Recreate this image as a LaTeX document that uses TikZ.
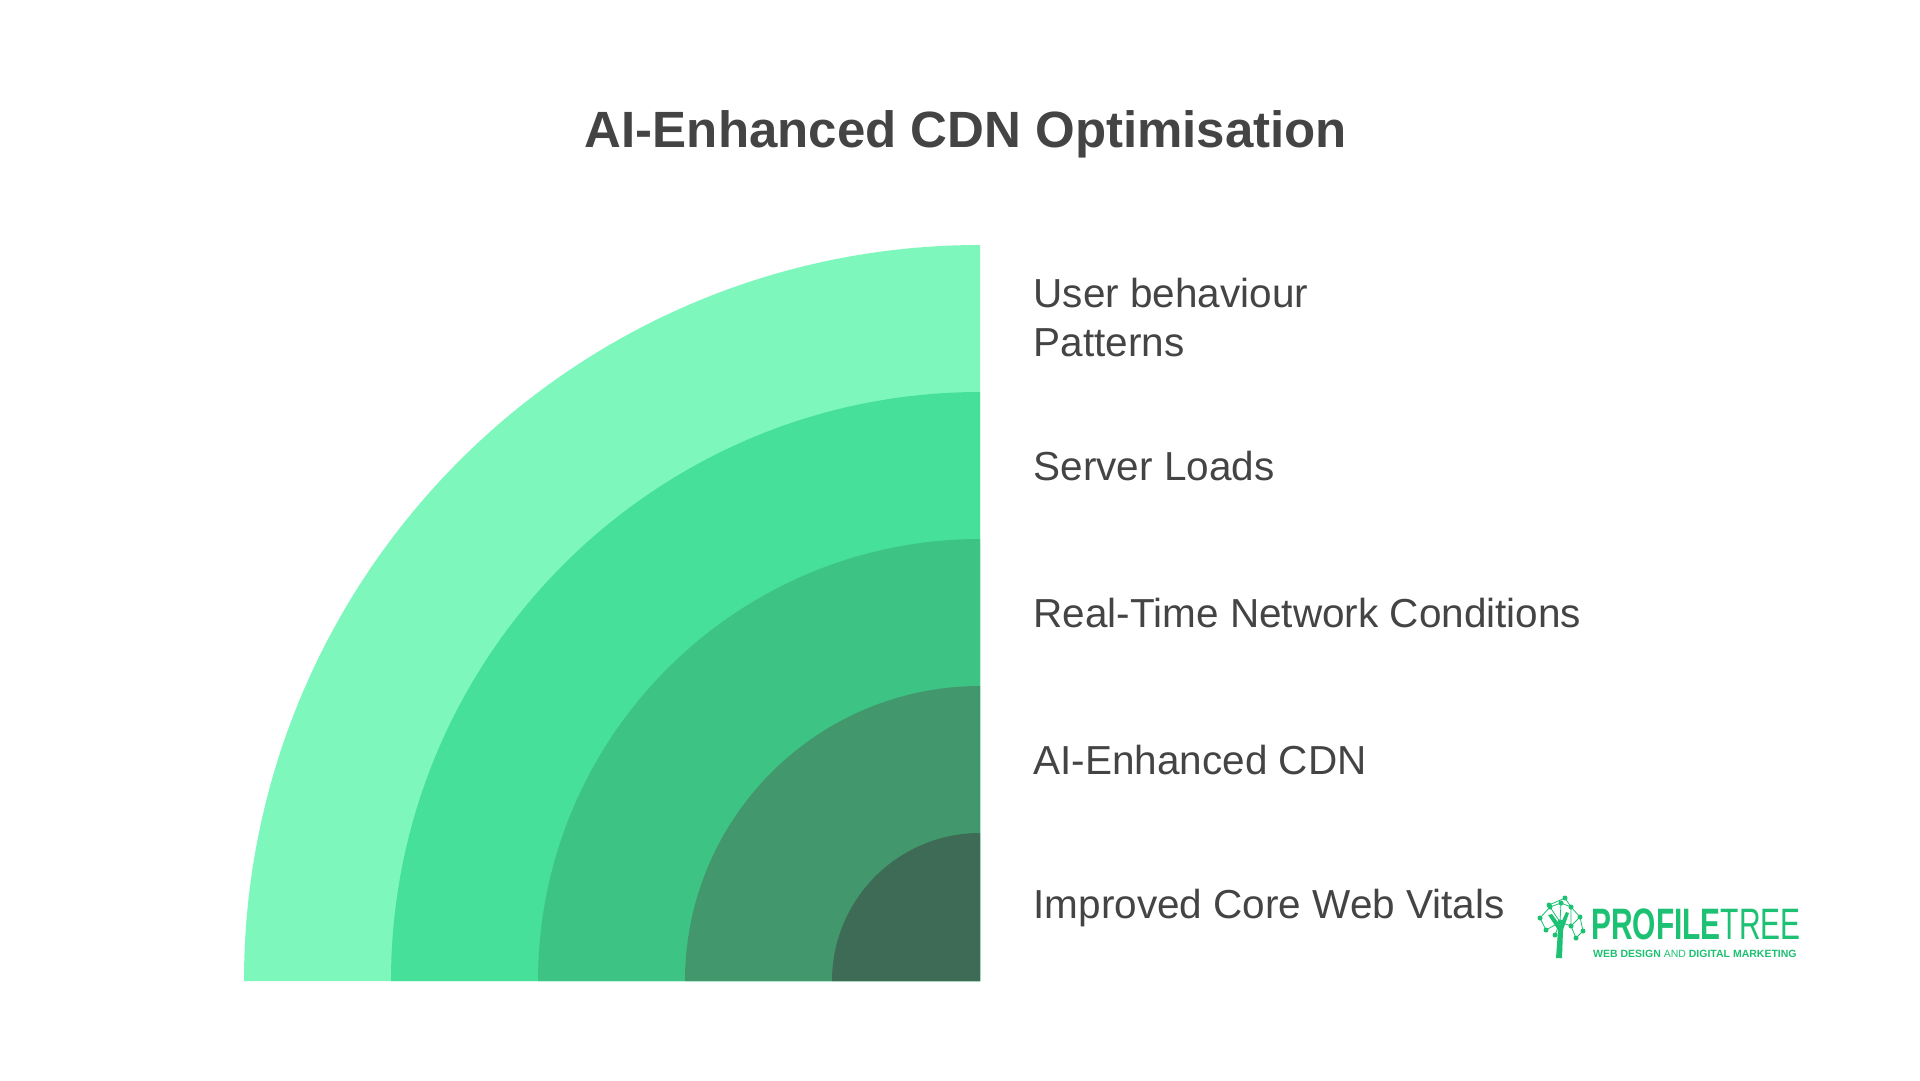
\documentclass[tikz,border=0pt]{standalone}
\usepackage{fontspec}
\setmainfont{Liberation Sans}
\definecolor{c1}{HTML}{7EF7BC}
\definecolor{c2}{HTML}{47E09A}
\definecolor{c3}{HTML}{3DC484}
\definecolor{c4}{HTML}{42986C}
\definecolor{c5}{HTML}{3D6B55}
\definecolor{txt}{HTML}{444444}
\definecolor{pt}{HTML}{1CC173}
\begin{document}
\begin{tikzpicture}[x=1pt,y=-1pt,
  lbl/.style={anchor=west,text=txt,font=\fontsize{40.5}{49}\selectfont,align=left},
  dot/.style={circle,fill=pt,inner sep=0pt,minimum size=#1}]
\useasboundingbox (0,0) rectangle (1920,1080);
\fill[white] (0,0) rectangle (1920,1080);
\node[text=txt,font=\bfseries\fontsize{51}{60}\selectfont] (title) at (966,134) {AI-Enhanced CDN Optimisation};
\foreach \r/\c in {736/c1,589/c2,442/c3,295/c4,148/c5}{
  \fill[\c] (980,981) -- ++(-\r,0) arc[start angle=180,end angle=270,radius=\r] -- cycle;
}
\node[lbl] (l1) at (1030,318) {User behaviour\\Patterns};
\node[lbl] (l2) at (1030,466) {Server Loads};
\node[lbl] (l3) at (1030,613) {Real-Time Network Conditions};
\node[lbl] (l4) at (1030,760) {AI-Enhanced CDN};
\node[lbl] (l5) at (1030,908) {Improved Core Web Vitals};
% logo
\fill[pt] (1556,958) -- (1558,930) -- (1548,915) -- (1552,914) -- (1560,925) -- (1566,912) -- (1569,913) -- (1563,930) -- (1562,958) -- cycle;
\foreach \a/\b in {1540/918,1550/907,1561/903,1571/907,1580/917,1583/931,1546/930,1560/922,1571/926,1576/938,1555/935,1549/905,1565/898}
  {\node[dot=5pt] at (\a,\b) {};}
\draw[pt,line width=0.8pt] (1540,918)--(1550,907)--(1561,903)--(1571,907)--(1580,917)--(1583,931)--(1576,938)--(1571,926)--(1560,922)--(1546,930)--(1540,918) (1550,907)--(1560,922)--(1561,903) (1571,907)--(1571,926)--(1580,917) (1555,935)--(1560,922) (1549,905)--(1565,898)--(1571,907);
\node[anchor=west,text=pt,inner sep=0pt,font=\bfseries\fontsize{44}{44}\selectfont] (logo) at (1591,924) {\scalebox{0.68}[1]{PROFILE\mdseries TREE}};
\node[anchor=west,text=pt,inner sep=0pt,font=\bfseries\fontsize{10.5}{10.5}\selectfont] (sub) at (1593,954) {WEB DESIGN \mdseries AND \bfseries DIGITAL MARKETING};
\end{tikzpicture}
\end{document}
